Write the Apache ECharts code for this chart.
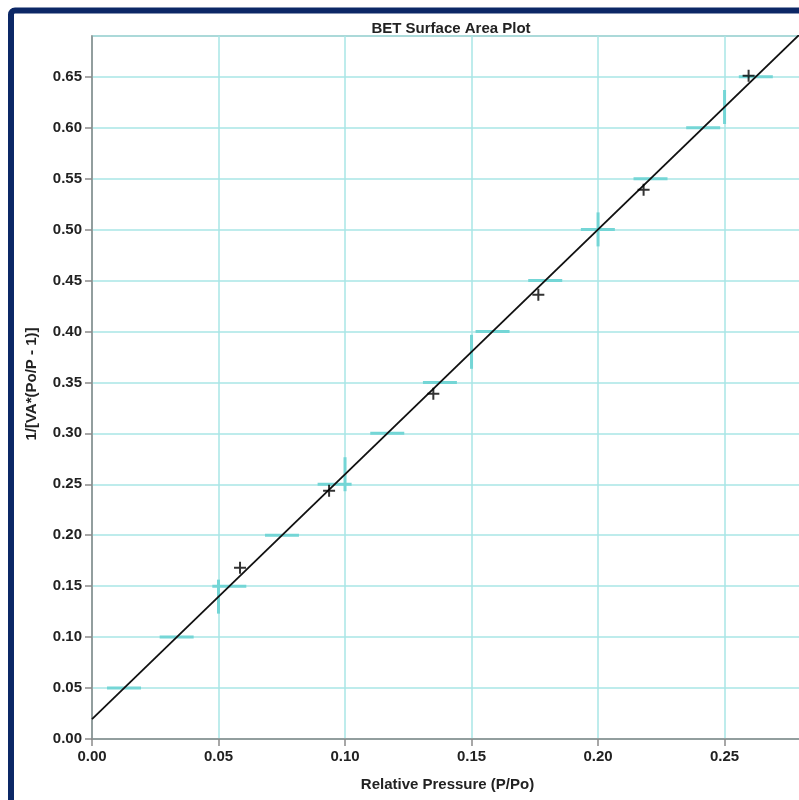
<!DOCTYPE html>
<html>
<head>
<meta charset="utf-8">
<script src="https://cdn.jsdelivr.net/npm/echarts@6/dist/echarts.min.js"></script>
<style>
  html, body { margin: 0; padding: 0; background: #ffffff; }
  #chart { width: 799px; height: 800px; }
</style>
</head>
<body>
<div id="chart"></div>
<script>
// Measured BET points: relative pressure P/Po and 1/[VA*(Po/P - 1)]
const relPressure = [0.0585, 0.0937, 0.1349, 0.1764, 0.2180, 0.2595];
const betValue = [0.168, 0.2436, 0.3389, 0.436, 0.539, 0.651];

// Linear fit drawn across the whole x range (end points)
const fitX = [0.0, 0.281];
const fitY = [0.0196, 0.6948];

// Gridline values where the fit line crosses the grid
const yGridValues = [0.05, 0.10, 0.15, 0.20, 0.25, 0.30, 0.35, 0.40, 0.45, 0.50, 0.55, 0.60, 0.65];
const xGridValues = [0.05, 0.10, 0.15, 0.20, 0.25];

const fitSlope = (fitY[1] - fitY[0]) / (fitX[1] - fitX[0]);
const fitIntercept = fitY[0] - fitSlope * fitX[0];

const fontFamily = '"Liberation Sans", Arial, sans-serif';
const gridColor = '#a9e6e6';
const crossColor = '#74d6d6';

const chart = echarts.init(document.getElementById('chart'), null, { renderer: 'canvas' });

const crossData = yGridValues.map(v => [v, 0]).concat(xGridValues.map(v => [v, 1]));

chart.setOption({
  animation: false,
  backgroundColor: '#ffffff',
  title: {
    text: 'BET Surface Area Plot',
    left: 446,
    top: 16,
    textAlign: 'center',
    textStyle: { fontFamily, fontSize: 15, fontWeight: 'bold', color: '#222' }
  },
  grid: {
    left: 92, width: 711, top: 36, bottom: 61,
    outerBoundsMode: 'none',
    containLabel: false,
    show: true, borderColor: '#9a9a9a', borderWidth: 1.5, backgroundColor: 'transparent'
  },
  xAxis: {
    type: 'value',
    min: 0, max: 0.281, interval: 0.05,
    name: 'Relative Pressure (P/Po)',
    nameLocation: 'middle',
    nameGap: 38,
    nameTextStyle: { fontFamily, fontSize: 15, fontWeight: 'bold', color: '#222' },
    axisLine: { show: true, lineStyle: { color: '#8a8a8a', width: 1.5 } },
    axisTick: { show: true, length: 7, lineStyle: { color: '#8a8a8a', width: 1.5 } },
    axisLabel: {
      fontFamily, fontSize: 15, fontWeight: 'bold', color: '#222', margin: 10,
      showMaxLabel: false,
      formatter: v => v.toFixed(2)
    },
    splitLine: { show: true, lineStyle: { color: gridColor, width: 1.5 } }
  },
  yAxis: {
    type: 'value',
    min: 0, max: 0.69, interval: 0.05,
    axisLine: { show: true, lineStyle: { color: '#8a8a8a', width: 1.5 } },
    axisTick: { show: true, length: 7, lineStyle: { color: '#8a8a8a', width: 1.5 } },
    axisLabel: {
      fontFamily, fontSize: 15, fontWeight: 'bold', color: '#222', margin: 10,
      showMaxLabel: false,
      formatter: v => v.toFixed(2)
    },
    splitLine: { show: true, lineStyle: { color: gridColor, width: 1.5 } }
  },
  graphic: [
    {
      type: 'text',
      x: 32, y: 384,
      rotation: Math.PI / 2,
      style: {
        text: '1/[VA*(Po/P - 1)]',
        font: 'bold 15px ' + fontFamily,
        fill: '#222',
        align: 'center',
        verticalAlign: 'middle'
      }
    },
    {
      type: 'rect',
      z: 100,
      shape: { x: 11, y: 10.5, width: 800, height: 800, r: 4 },
      style: { fill: null, stroke: '#0c2866', lineWidth: 6 }
    }
  ],
  series: [
    {
      // short emphasised gridline pieces where the fit line crosses the grid
      type: 'custom',
      silent: true,
      z: 1,
      data: crossData,
      renderItem: function (params, api) {
        const v = api.value(0);
        const kind = api.value(1);
        let p, shape;
        if (kind === 0) {
          p = api.coord([(v - fitIntercept) / fitSlope, v]);
          shape = { x1: p[0] - 17, y1: p[1], x2: p[0] + 17, y2: p[1] };
        } else {
          p = api.coord([v, fitIntercept + fitSlope * v]);
          shape = { x1: p[0], y1: p[1] - 17, x2: p[0], y2: p[1] + 17 };
        }
        return {
          type: 'line',
          shape: shape,
          style: { stroke: crossColor, lineWidth: 3 }
        };
      }
    },
    {
      type: 'line',
      data: fitX.map((x, i) => [x, fitY[i]]),
      showSymbol: false,
      symbol: 'none',
      clip: true,
      z: 3,
      lineStyle: { color: '#111', width: 1.8 }
    },
    {
      type: 'scatter',
      data: relPressure.map((x, i) => [x, betValue[i]]),
      symbol: 'path://M5,0 L7,0 L7,5 L12,5 L12,7 L7,7 L7,12 L5,12 L5,7 L0,7 L0,5 L5,5 Z',
      symbolSize: 12,
      z: 4,
      itemStyle: { color: '#000' }
    }
  ]
});
</script>
</body>
</html>
